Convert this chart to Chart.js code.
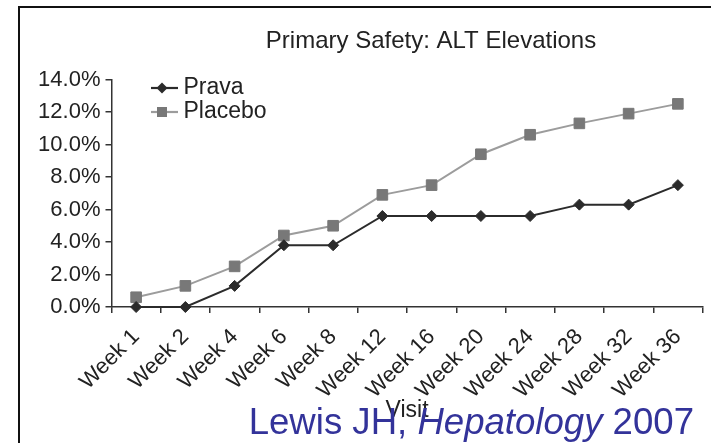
<!DOCTYPE html>
<html>
<head>
<meta charset="utf-8">
<script src="https://cdn.jsdelivr.net/npm/chart.js@4.4.1/dist/chart.umd.min.js"></script>
<style>
  html, body { margin: 0; padding: 0; background: #fff; }
  #wrap { position: relative; width: 711px; height: 443px; overflow: hidden; background: #fff; }
  #frame { position: absolute; left: 18px; top: 6px; width: 720px; height: 460px;
           border-left: 2px solid #111; border-top: 2px solid #111; }
  #c { position: absolute; left: 0; top: 0; }
  #cite { position: absolute; right: 17px; top: 404px; white-space: nowrap;
          font: 36.6px/1 'Liberation Sans', Arial, sans-serif; color: #33339a; }
</style>
</head>
<body>
<div id="wrap">
  <div id="frame"></div>
  <canvas id="c" width="711" height="443"></canvas>
  <div id="cite">Lewis JH, <i>Hepatology</i> 2007</div>
</div>
<script>
// ---- data ----
const visits = ['Week 1', 'Week 2', 'Week 4', 'Week 6', 'Week 8', 'Week 12',
                'Week 16', 'Week 20', 'Week 24', 'Week 28', 'Week 32', 'Week 36'];
const prava   = [0.0, 0.0, 1.3, 3.8, 3.8, 5.6, 5.6, 5.6, 5.6, 6.3, 6.3, 7.5];
const placebo = [0.6, 1.3, 2.5, 4.4, 5.0, 6.9, 7.5, 9.4, 10.6, 11.3, 11.9, 12.5];
const yTicks  = [0, 2, 4, 6, 8, 10, 12, 14];
const seriesNames = ['Prava', 'Placebo'];
const chartTitle = 'Primary Safety: ALT Elevations';
const xTitle = 'Visit';

// ---- styles ----
const FONT = "'Liberation Sans', Arial, Helvetica, sans-serif";
const PRAVA_LINE = '#2b2b2b', PRAVA_PT = '#2b2b2b';
const PLAC_LINE = '#9c9c9c', PLAC_PT = '#787878';

function makeIcon(kind, lineColor, ptColor) {
  const cv = document.createElement('canvas');
  cv.width = 32; cv.height = 14;
  const g = cv.getContext('2d');
  g.strokeStyle = lineColor; g.lineWidth = 2.2;
  g.beginPath(); g.moveTo(0, 7); g.lineTo(32, 7); g.stroke();
  g.fillStyle = ptColor;
  if (kind === 'diamond') {
    g.beginPath(); g.moveTo(16, 1.5); g.lineTo(21.5, 7); g.lineTo(16, 12.5); g.lineTo(10.5, 7); g.closePath(); g.fill();
  } else {
    g.fillRect(11, 2, 10, 10);
  }
  return cv;
}
const icons = [makeIcon('diamond', PRAVA_LINE, PRAVA_PT), makeIcon('square', PLAC_LINE, PLAC_PT)];

Chart.defaults.font.family = FONT;
Chart.defaults.color = '#222';

const placePlugin = {
  id: 'place',
  afterLayout(chart) {
    const t = chart.titleBlock;
    if (t) { const w = t.right - t.left; t.left = 431 - w / 2; t.right = 431 + w / 2; }
    const l = chart.legend;
    if (l) { l.left = 151; l.top = 75.5; }
  }
};

new Chart(document.getElementById('c'), {
  type: 'line',
  data: {
    labels: visits,
    datasets: [
      { label: seriesNames[0], data: prava, borderColor: PRAVA_LINE, borderWidth: 2,
        pointStyle: 'rectRot', pointRadius: 5.5, pointBackgroundColor: PRAVA_PT,
        pointBorderColor: PRAVA_PT, pointBorderWidth: 1, tension: 0, clip: false },
      { label: seriesNames[1], data: placebo, borderColor: PLAC_LINE, borderWidth: 2,
        pointStyle: 'rect', pointRadius: 7.5, pointBackgroundColor: PLAC_PT,
        pointBorderColor: PLAC_PT, pointBorderWidth: 1, tension: 0, clip: false }
    ]
  },
  options: {
    responsive: false,
    animation: false,
    devicePixelRatio: 1,
    events: [],
    layout: { padding: { left: 20, right: 0, top: 0, bottom: 0 } },
    plugins: {
      title: { display: true, text: chartTitle, color: '#222',
               font: { size: 24, weight: 'normal' }, padding: { top: 26.9, bottom: 23.8 } },
      legend: {
        position: 'chartArea', align: 'start',
        labels: {
          usePointStyle: true, pointStyleWidth: 20, padding: 1,
          font: { size: 23 }, color: '#222',
          generateLabels(chart) {
            return chart.data.datasets.map((ds, i) => ({
              text: ds.label, pointStyle: icons[i], fillStyle: ds.borderColor,
              strokeStyle: ds.borderColor, lineWidth: 0, hidden: false,
              datasetIndex: i, fontColor: '#222'
            }));
          }
        }
      },
      tooltip: { enabled: false }
    },
    scales: {
      x: {
        offset: true,
        afterFit(s) { s.height = 136; },
        grid: { offset: true, drawOnChartArea: false, drawTicks: true, tickLength: 6,
                color: '#333', lineWidth: 1.5 },
        border: { display: true, color: '#333', width: 1.5 },
        ticks: { autoSkip: false, minRotation: 45, maxRotation: 45, padding: 11,
                 font: { size: 22 }, color: '#222' },
        title: { display: true, text: xTitle, font: { size: 23 }, color: '#222',
                 padding: { top: 0, bottom: 19 } }
      },
      y: {
        min: yTicks[0], max: yTicks[yTicks.length - 1],
        afterFit(s) { s.width = 91.5; },
        afterBuildTicks(s) { s.ticks = yTicks.map(v => ({ value: v })); },
        grid: { drawOnChartArea: false, drawTicks: true, tickLength: 6,
                color: '#333', lineWidth: 1.5 },
        border: { display: true, color: '#333', width: 1.5 },
        ticks: { padding: 5, font: { size: 22 }, color: '#222',
                 callback: v => Number(v).toFixed(1) + '%' }
      }
    }
  },
  plugins: [placePlugin]
});
</script>
</body>
</html>
